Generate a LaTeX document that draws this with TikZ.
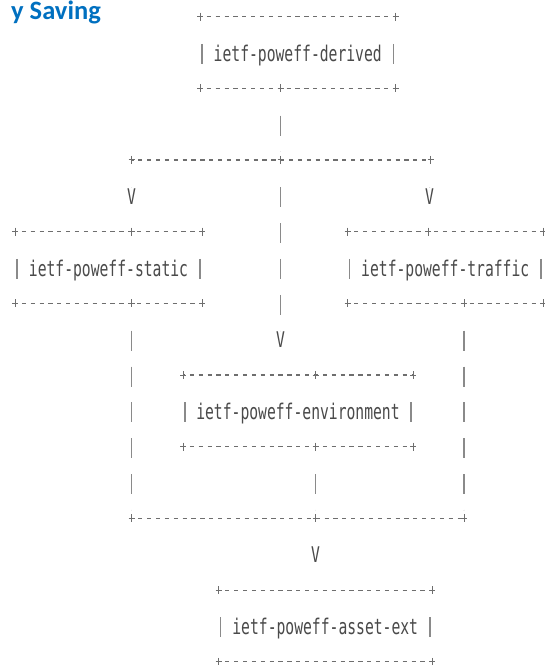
\documentclass[tikz,border=0pt]{standalone}
\usepackage{fontspec}
\setmainfont{Carlito}
\newfontfamily\asciifont[FakeStretch=0.68]{DejaVu Sans Mono}
\usetikzlibrary{calc}

\definecolor{titleblue}{HTML}{0070C0}
\definecolor{glyphgray}{HTML}{4A4A4A}
\definecolor{rulegray}{HTML}{6E6E6E}
\definecolor{bargray}{HTML}{8A8A8A}

% vertical layout of the character rows
\newcommand\rowzero{16.5}
\newcommand\rowh{35.85}
\newcommand\ry[1]{\rowzero+\rowh*(#1-1)}

\tikzset{
  modname/.style={anchor=base, inner sep=0pt, text=glyphgray,
    font=\asciifont\fontsize{21.6}{21.6}\selectfont},
  vhead/.style={modname},
  hrule/.style={draw=rulegray, line width=1.2pt,
    dash pattern=on 4.2pt off 4.67pt, dash phase=2.1pt},
  pipes/.style={draw=bargray, line width=1.2pt,
    dash pattern=on 20pt off 15.85pt, dash phase=20pt,
    shorten <=11.5pt, shorten >=8.5pt},
  bar/.style={draw=bargray, line width=1.2pt},
  pics/plus/.style={code={\draw[draw=rulegray, line width=1pt]
    (-3,0) -- (3,0) (0,-4) -- (0,4);}},
}

% module box: name, left x, right x, label row, label
\newcommand\modbox[5]{%
  \coordinate (#1-tl) at (#2,{\ry{#4}-\rowh});
  \coordinate (#1-tr) at (#3,{\ry{#4}-\rowh});
  \coordinate (#1-bl) at (#2,{\ry{#4}+\rowh});
  \coordinate (#1-br) at (#3,{\ry{#4}+\rowh});
  \node[modname] (#1) at ({(#2+#3)/2},{\ry{#4}+9}) {#5};
  \draw[hrule] (#1-tl) -- (#1-tr);
  \draw[hrule] (#1-bl) -- (#1-br);
  \draw[bar] ({#2+2},{\ry{#4}-8.5}) -- ++(0,20);
  \draw[bar] ({#3-2},{\ry{#4}-8.5}) -- ++(0,20);
  \foreach \corner in {tl,tr,bl,br} \pic at (#1-\corner) {plus};
}

% arrow head of a connector: name, x, row
\newcommand\vhead[3]{%
  \coordinate (#1) at (#2,{\ry{#3}});
  \node[vhead] (#1-tip) at (#2,{\ry{#3}+8.5}) {V};
}

\begin{document}
\begin{tikzpicture}[x=1pt,y=-1pt]
\useasboundingbox (0,0) rectangle (545,665);
\fill[white] (0,0) rectangle (545,665);

\node[anchor=base east, inner sep=0pt, text=titleblue,
  font=\bfseries\fontsize{26.5}{26.5}\selectfont] (title) at (101,19) {y Saving};

\modbox{derived}{200}{395.5}{2}{ietf-poweff-derived}
\modbox{static}{15}{202}{8}{ietf-poweff-static}
\modbox{traffic}{347.5}{543}{8}{ietf-poweff-traffic}
\modbox{env}{183}{413}{12}{ietf-poweff-environment}
\modbox{asset}{218.5}{432}{18}{ietf-poweff-asset-ext}

% junctions on the box borders
\coordinate (derived-b) at (280.5,{\ry{3}});
\coordinate (static-t) at (131.5,{\ry{7}});
\coordinate (static-b) at (131.5,{\ry{9}});
\coordinate (traffic-t) at (428,{\ry{7}});
\coordinate (traffic-b) at (464,{\ry{9}});
\coordinate (env-t) at (315.5,{\ry{11}});
\coordinate (env-b) at (315.5,{\ry{13}});

% fan-out and fan-in rows
\coordinate (fan-l) at (131.5,{\ry{5}});
\coordinate (fan-m) at (280.5,{\ry{5}});
\coordinate (fan-r) at (430.5,{\ry{5}});
\coordinate (join-l) at (131.5,{\ry{15}});
\coordinate (join-m) at (315.5,{\ry{15}});
\coordinate (join-r) at (464,{\ry{15}});
\draw[hrule] (fan-l) -- (fan-r);
\draw[hrule] (join-l) -- (join-r);

% arrow heads
\vhead{v-static}{131.5}{6}
\vhead{v-traffic}{429.5}{6}
\vhead{v-env}{280.5}{10}
\vhead{v-asset}{315.5}{16}

% vertical connectors
\draw[pipes] (derived-b) -- (fan-m);
\draw[pipes] (fan-l) -- (v-static);
\draw[pipes] (fan-r) -- (v-traffic);
\draw[pipes] (fan-m) -- (v-env);
\draw[pipes] (static-b) -- (join-l);
\draw[pipes] (traffic-b) -- (join-r);
\draw[pipes] (env-b) -- (join-m);
\draw[pipes] (join-m) -- (v-asset);

% plus marks at every junction
\foreach \j in {derived-b,static-t,static-b,traffic-t,traffic-b,env-t,env-b,
  fan-l,fan-m,fan-r,join-l,join-m,join-r}
  \pic at (\j) {plus};
\end{tikzpicture}
\end{document}
